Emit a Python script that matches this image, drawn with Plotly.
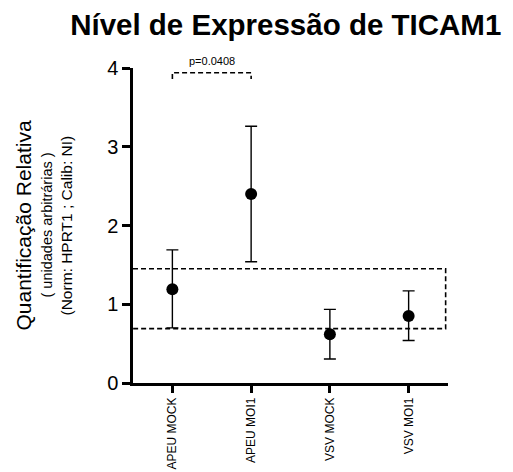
import plotly.graph_objects as go

categories = ["APEU MOCK", "APEU MOI1", "VSV MOCK", "VSV MOI1"]
means = [1.19, 2.40, 0.62, 0.85]
upper = [1.69, 3.26, 0.935, 1.17]
lower = [0.70, 1.54, 0.305, 0.54]
box_low, box_high = 0.69, 1.45
bracket_y = 3.94
bracket_tick = 3.86
p_text = "p=0.0408"

xs = list(range(len(categories)))
err_plus = [u - m for u, m in zip(upper, means)]
err_minus = [m - l for m, l in zip(means, lower)]

FONT = "Liberation Sans, Arial, sans-serif"
DASH = "5px,3px"

fig = go.Figure()
fig.add_trace(go.Scatter(
    x=xs, y=means, mode="markers",
    marker=dict(color="black", size=12),
    error_y=dict(type="data", symmetric=False, array=err_plus, arrayminus=err_minus,
                 color="black", thickness=1.4, width=6),
    showlegend=False,
))

# dashed reference box
fig.add_shape(type="path",
              path=f"M -0.5,{box_high} L 3.47,{box_high} L 3.47,{box_low} L -0.5,{box_low}",
              line=dict(color="black", width=1.6, dash=DASH), layer="below")
# significance bracket
fig.add_shape(type="path",
              path=f"M 0,{bracket_tick} L 0,{bracket_y} L 1,{bracket_y} L 1,{bracket_tick}",
              line=dict(color="black", width=1.6, dash=DASH))
fig.add_annotation(x=0.5, y=bracket_y, text=p_text, showarrow=False, yanchor="bottom", yshift=4,
                   font=dict(size=11, color="black", family=FONT))

# y-axis titles
fig.add_annotation(xref="paper", yref="paper", x=0, y=0.5, xanchor="center", yanchor="middle",
                   xshift=-110, textangle=-90, showarrow=False, text="Quantificação Relativa",
                   font=dict(size=21, color="black", family=FONT))
fig.add_annotation(xref="paper", yref="paper", x=0, y=0.5, xanchor="center", yanchor="middle",
                   xshift=-87, textangle=-90, showarrow=False, text="( unidades arbitrárias )",
                   font=dict(size=14.5, color="black", family=FONT))
fig.add_annotation(xref="paper", yref="paper", x=0, y=0.5, xanchor="center", yanchor="middle",
                   xshift=-67, textangle=-90, showarrow=False, text="(Norm: HPRT1 ; Calib: NI)",
                   font=dict(size=15.5, color="black", family=FONT))

fig.update_layout(
    width=513, height=472,
    margin=dict(l=133, r=65, t=68, b=89),
    plot_bgcolor="white", paper_bgcolor="white",
    title=dict(text="<b>Nível de Expressão de TICAM1</b>", x=0.557, xanchor="center",
               y=1 - 25 / 472, yanchor="middle",
               font=dict(size=29.5, color="black", family=FONT)),
    font=dict(family=FONT, color="black"),
)
fig.update_xaxes(
    range=[-0.5, 3.5], tickmode="array", tickvals=xs, ticktext=categories,
    tickangle=-90, tickfont=dict(size=12, color="black", family=FONT), automargin=False,
    showline=True, linecolor="black", linewidth=2.5, ticks="outside", ticklen=7,
    tickwidth=2.5, tickcolor="black", showgrid=False, zeroline=False,
)
fig.update_yaxes(
    range=[0, 4], tickvals=[0, 1, 2, 3, 4], tickfont=dict(size=20, color="black", family=FONT),
    automargin=False,
    showline=True, linecolor="black", linewidth=2.5, ticks="outside", ticklen=8,
    tickwidth=2.5, tickcolor="black", showgrid=False, zeroline=False,
)

fig.write_html("out.html")
